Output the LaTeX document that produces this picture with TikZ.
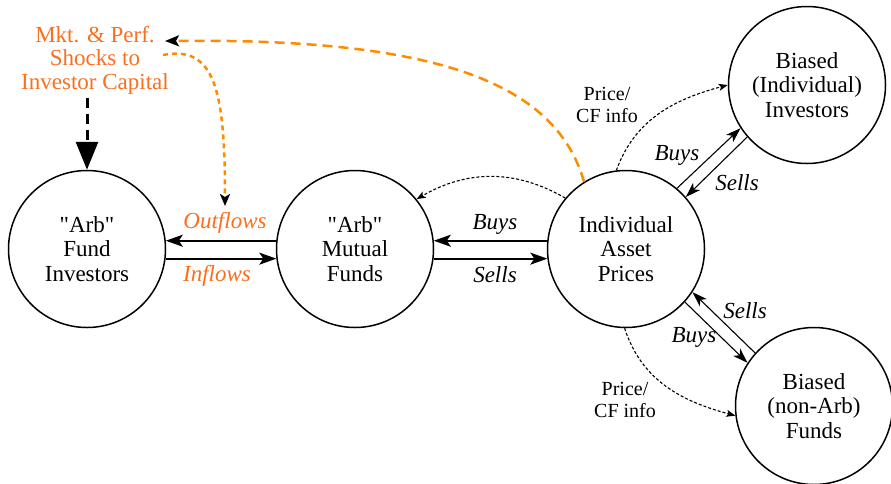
\documentclass[tikz,border=0pt]{standalone}
\usepackage{fontspec}
\setmainfont{Liberation Serif}[Ligatures=TeXOff]
\usetikzlibrary{arrows.meta}
\definecolor{shocktext}{RGB}{250,110,30}
\definecolor{shockline}{RGB}{255,140,0}
\begin{document}
\begin{tikzpicture}[x=1pt,y=-1pt,
 agent/.style={circle,draw,line width=1.5pt,minimum size=157pt,inner sep=0pt,align=center,font=\fontsize{23}{24.5}\selectfont},
 flow/.style={line width=2pt,-{Stealth[length=17pt,width=12pt,inset=4pt]}},
 trade/.style={line width=1.1pt,-{Stealth[length=15pt,width=10pt,inset=4pt]}},
 info/.style={line width=1.1pt,dash pattern=on 3pt off 2pt,-{Stealth[length=9pt,width=7pt,inset=2pt]}},
 lbl/.style={font=\fontsize{23}{24.5}\selectfont\itshape,inner sep=0pt},
 small/.style={font=\fontsize{20}{22}\selectfont,align=center,inner sep=0pt},
 shock/.style={font=\fontsize{23}{23.5}\selectfont,align=center,inner sep=0pt,text=shocktext},
]
\useasboundingbox (0,0) rectangle (891,483);
\node[agent] (fi) at (87,249) {"Arb"\\Fund\\Investors};
\node[agent] (mf) at (355,249) {"Arb"\\Mutual\\Funds};
\node[agent] (ap) at (626,249) {Individual\\Asset\\Prices};
\node[agent] (bi) at (807,85) {Biased\\(Individual)\\Investors};
\node[agent] (bf) at (814,406) {Biased\\(non-Arb)\\Funds};
\node[shock] (sh) at (95,60) {Mkt. \& Perf.\\Shocks to\\Investor Capital};
\coordinate (shin) at (165,41);
\coordinate (shout) at (163,55);
\coordinate (otip) at (225,206);
\coordinate (shbot) at (87,98);

% shock arrows
\draw[line width=3pt,dash pattern=on 10pt off 6pt,-{Triangle[length=28pt,width=22pt]}] (shbot) -- (fi.north);
\draw[shockline,line width=2.5pt,dash pattern=on 10pt off 6pt,-{Stealth[color=black,length=14pt,width=11pt,inset=3pt]}] (ap.122) .. controls (555,80) and (430,38) .. (shin);
\draw[shockline,line width=2.5pt,dash pattern=on 5pt off 4pt,-{Stealth[color=black,length=12pt,width=10pt,inset=3pt]}] (shout) .. controls (215,45) and (225,90) .. (otip);

% flows
\draw[flow] (mf.174) -- (fi.6);
\draw[flow] (fi.-7) -- (mf.187);
\draw[flow] (ap.174) -- (mf.6);
\draw[flow] (mf.-7) -- (ap.187);

% trades
\draw[trade] (ap.50) -- (bi.213);
\draw[trade] (bi.221) -- (ap.41);
\draw[trade] (bf.138) -- (ap.-33);
\draw[trade] (ap.-42) -- (bf.147);

% info
\draw[info] (ap.97) to[out=70,in=195] (bi.180);
\draw[info] (ap.-91) to[out=-72,in=165] (bf.187);
\draw[info] (ap.140) to[out=150,in=30] (mf.39);

% labels
\node[lbl,text=shocktext] (lo) at (225,223) {Outflows};
\node[lbl,text=shocktext] (li) at (217,276) {Inflows};
\node[lbl] (lb1) at (495,224) {Buys};
\node[lbl] (ls1) at (495,275) {Sells};
\node[lbl] (lb2) at (677,155) {Buys};
\node[lbl] (ls2) at (737,183) {Sells};
\node[lbl] (ls3) at (745,311) {Sells};
\node[lbl] (lb3) at (694,337) {Buys};
\node[small] (pi1) at (607,105) {Price/\\CF info};
\node[small] (pi2) at (625,400) {Price/\\CF info};
\end{tikzpicture}
\end{document}
